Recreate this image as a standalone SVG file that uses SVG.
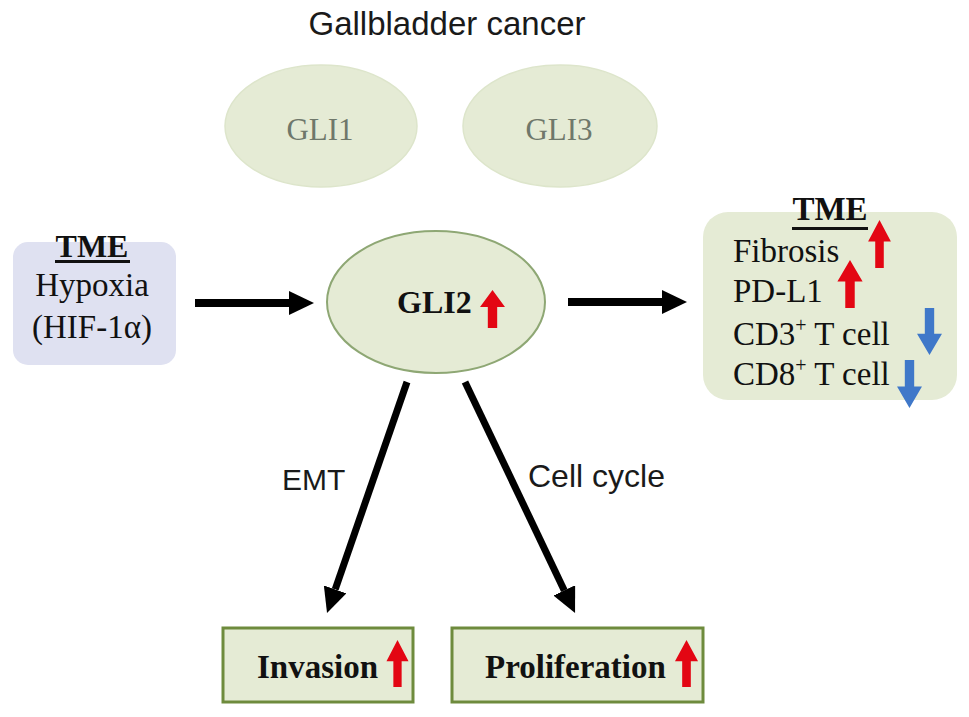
<svg xmlns="http://www.w3.org/2000/svg" width="969" height="717" viewBox="0 0 969 717">
<defs>
<style>
.serif{font-family:"Liberation Serif","Times New Roman",serif;fill:#111}
.sans{font-family:"Liberation Sans",Arial,sans-serif;fill:#1a1a1a}
.b{font-weight:bold}
.green{fill:#e5ebd5}
.conn{stroke:#000;fill:none}
.red{fill:#e30613}
.blue{fill:#3f78c9}
</style>
<path id="up" d="M0,-20 L12,-2 L4.5,-2 L4.5,20 L-4.5,20 L-4.5,-2 L-12,-2 Z"/>
<marker id="ah" markerUnits="userSpaceOnUse" markerWidth="26" markerHeight="24" refX="0" refY="12" orient="auto">
<path d="M0,0 L25,12 L0,24 Z" fill="#000"/>
</marker>
</defs>
<rect width="969" height="717" fill="#fff"/>

<g id="title">
<text class="sans" x="447" y="35" font-size="33" text-anchor="middle">Gallbladder cancer</text>
</g>

<g id="gli1">
<ellipse class="green" cx="321" cy="126" rx="96" ry="61" stroke="#dde5cb" stroke-width="1.5"/>
<text class="serif" x="320" y="140" font-size="31" text-anchor="middle" style="fill:#6f786b">GLI1</text>
</g>

<g id="gli3">
<ellipse class="green" cx="560" cy="126" rx="97" ry="61" stroke="#dde5cb" stroke-width="1.5"/>
<text class="serif" x="559" y="140" font-size="31" text-anchor="middle" style="fill:#6f786b">GLI3</text>
</g>

<g id="hypoxia">
<rect x="13" y="242" width="163" height="123" rx="15" fill="#dfe1f1"/>
<text class="serif b" x="92" y="257" font-size="32" text-anchor="middle">TME</text>
<rect x="55" y="260" width="75" height="3" fill="#111"/>
<text class="serif" x="92" y="296" font-size="33" text-anchor="middle">Hypoxia</text>
<text class="serif" x="92" y="338" font-size="33" text-anchor="middle">(HIF-1α)</text>
</g>

<g id="gli2">
<ellipse class="green" cx="436" cy="302" rx="109" ry="71" stroke="#8ea774" stroke-width="2"/>
<text class="serif b" x="397" y="313" font-size="32">GLI2</text>
<use href="#up" class="red" transform="translate(492.5,309) scale(1.04,0.95)"/>
</g>

<g id="tme-right">
<rect x="703" y="212" width="254" height="188" rx="25" class="green"/>
<text class="serif b" x="830" y="220" font-size="33" text-anchor="middle">TME</text>
<rect x="792" y="227" width="76" height="3" fill="#111"/>
<text class="serif" x="733" y="262" font-size="33">Fibrosis</text>
<text class="serif" x="733" y="302" font-size="33">PD-L1</text>
<text class="serif" x="733" y="345" font-size="33">CD3<tspan font-size="20" dy="-13">+</tspan><tspan dy="13"> T cell</tspan></text>
<text class="serif" x="733" y="385" font-size="33">CD8<tspan font-size="20" dy="-13">+</tspan><tspan dy="13"> T cell</tspan></text>
<use href="#up" class="red" transform="translate(879.5,244) scale(0.95,1.2)"/>
<use href="#up" class="red" transform="translate(850,284) scale(1.05,1.2)"/>
<use href="#up" class="blue" transform="translate(929.5,331.5) rotate(180) scale(1.04,1.18)"/>
<use href="#up" class="blue" transform="translate(909.5,384) rotate(180) scale(1.04,1.2)"/>
</g>

<g id="invasion">
<rect x="223" y="628" width="190" height="74" class="green" stroke="#6e8b3d" stroke-width="3"/>
<text class="serif b" x="257" y="678" font-size="33">Invasion</text>
<use href="#up" class="red" transform="translate(397.5,663.5) scale(0.92,1.18)"/>
</g>

<g id="proliferation">
<rect x="452" y="628" width="251" height="74" class="green" stroke="#6e8b3d" stroke-width="3"/>
<text class="serif b" x="485" y="678" font-size="33">Proliferation</text>
<use href="#up" class="red" transform="translate(686.5,663.5) scale(0.96,1.18)"/>
</g>

<g id="connectors">
<line class="conn" x1="195" y1="303" x2="289" y2="303" stroke-width="8" marker-end="url(#ah)"/>
<line class="conn" x1="568" y1="302" x2="662" y2="302" stroke-width="8" marker-end="url(#ah)"/>
<line class="conn" x1="407" y1="382" x2="335.2" y2="589.4" stroke-width="7" marker-end="url(#ah)"/>
<line class="conn" x1="465" y1="382" x2="564.3" y2="590.4" stroke-width="7" marker-end="url(#ah)"/>
<text class="sans" x="282" y="490" font-size="30">EMT</text>
<text class="sans" x="528" y="487" font-size="32">Cell cycle</text>
</g>
</svg>
